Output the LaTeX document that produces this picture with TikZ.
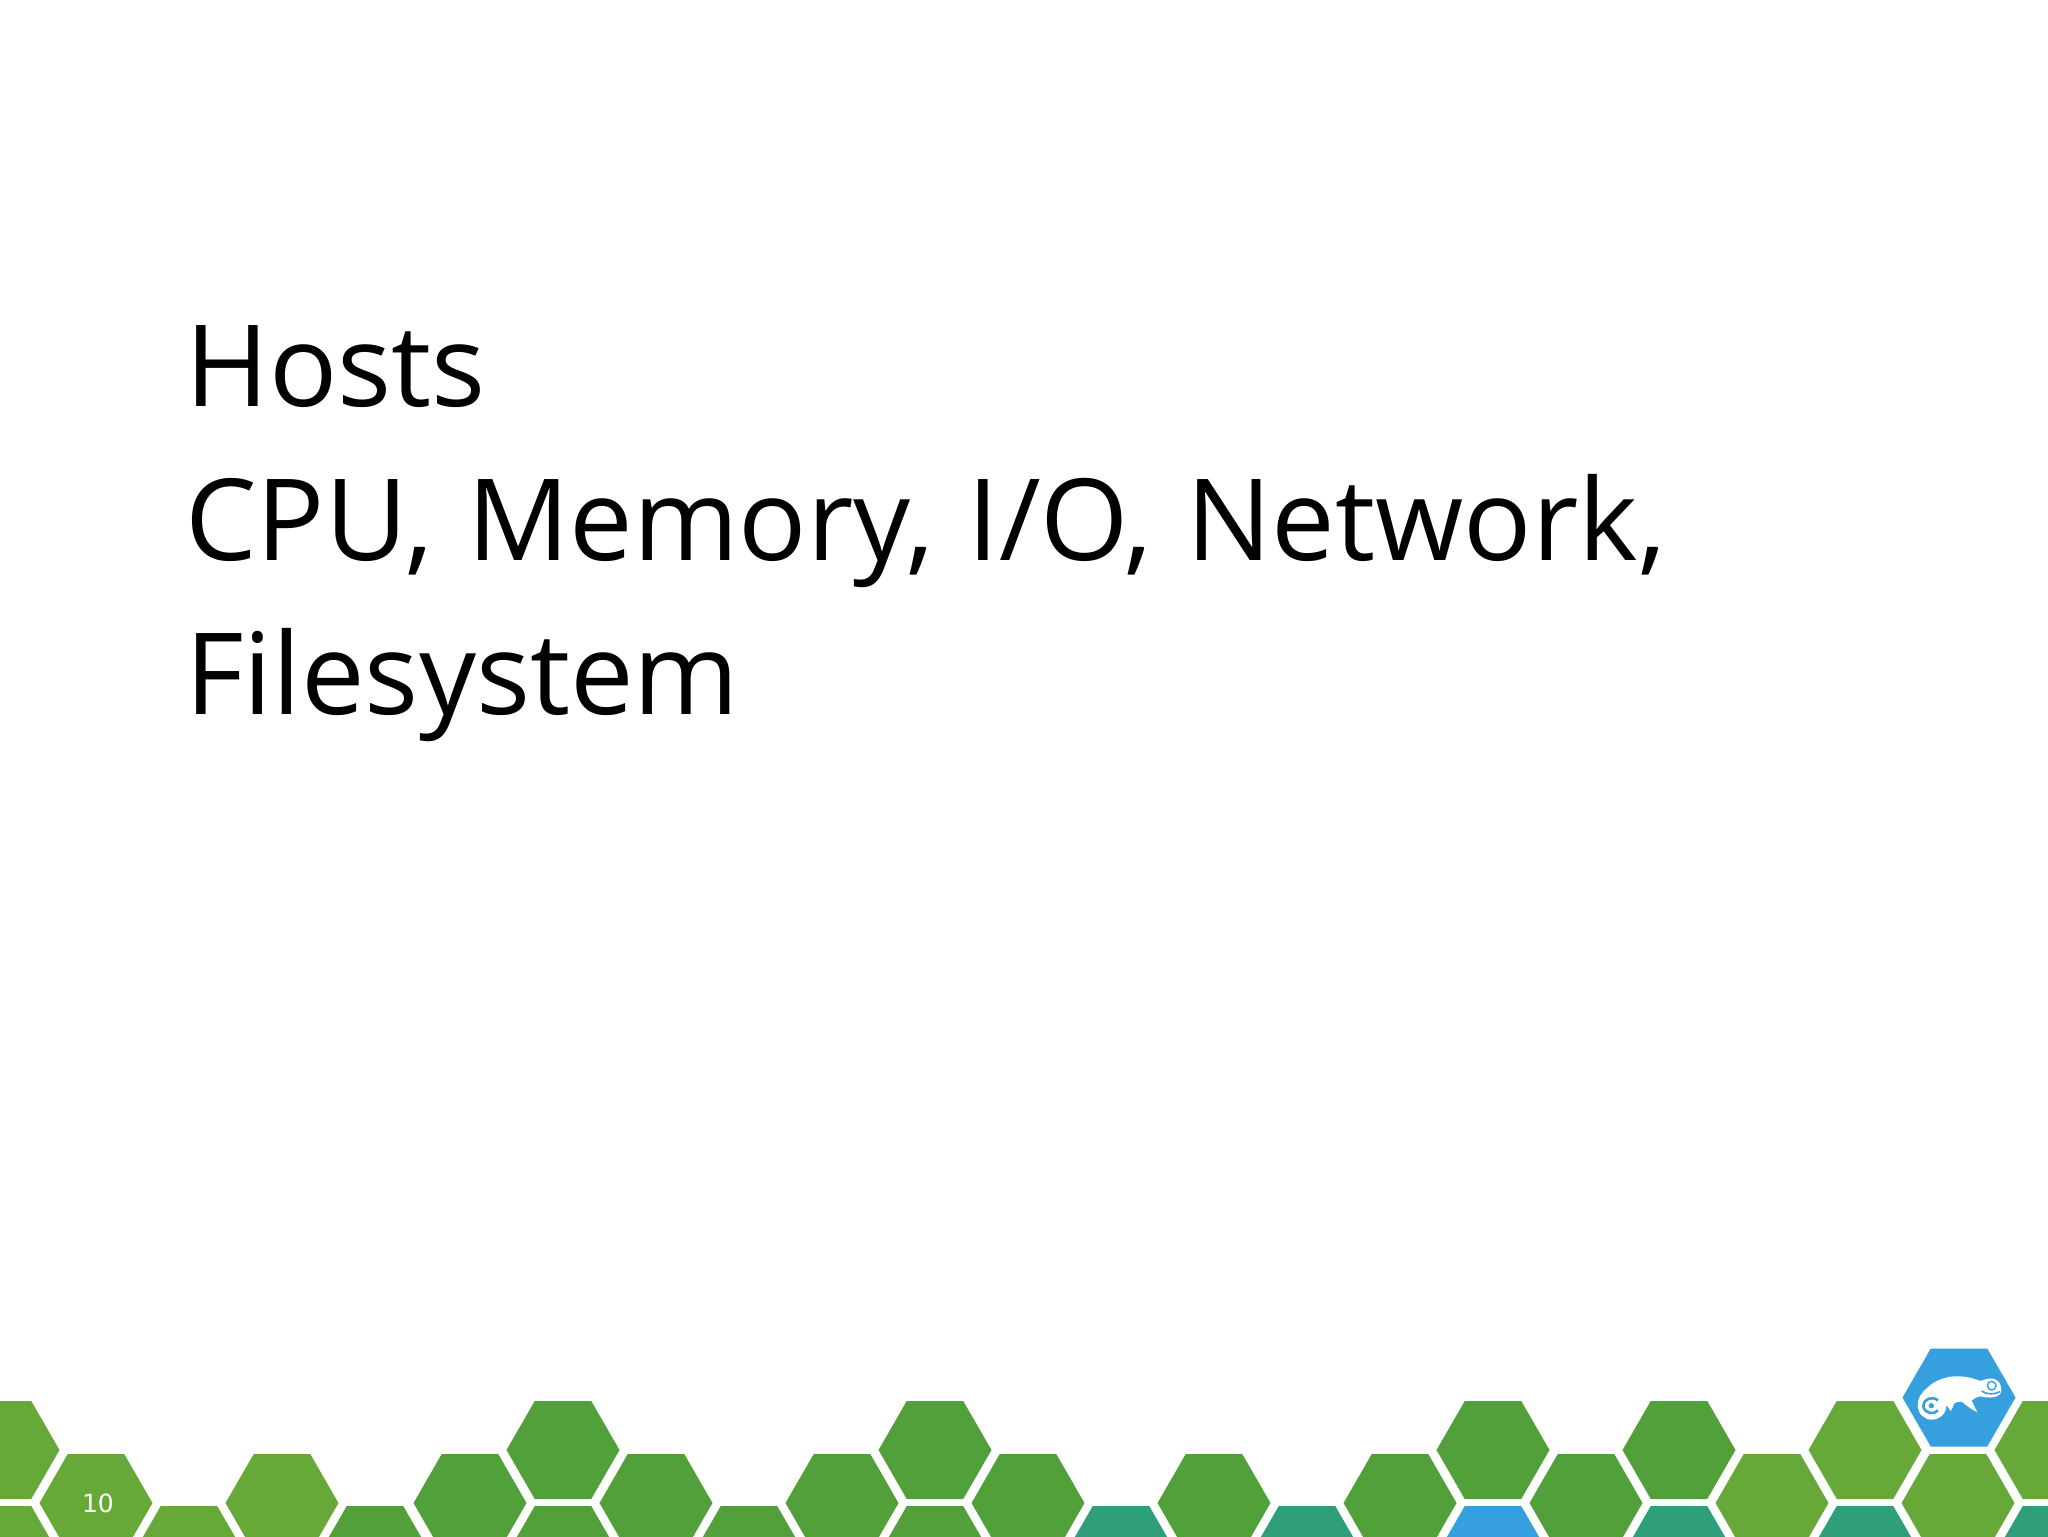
\documentclass[tikz,border=0pt]{standalone}
\usepackage{fontspec}
\setmainfont[WordSpace=1.15]{Open Sans}
\newfontfamily\pagefont{DejaVu Sans}
\definecolor{lightgreen}{HTML}{66A938}
\definecolor{midgreen}{HTML}{52A039}
\definecolor{tealgreen}{HTML}{2F9E7A}
\definecolor{skyblue}{HTML}{36A0DF}
\tikzset{
  hexcell/.pic={\fill (56.5,0) -- (28.25,49) -- (-28.25,49) -- (-56.5,0) -- (-28.25,-49) -- (28.25,-49) -- cycle;},
  bigline/.style={anchor=base west,inner sep=0pt,font=\fontsize{56.7}{70}\selectfont},
}
\begin{document}
\begin{tikzpicture}[x=0.5pt,y=-0.5pt]
  \useasboundingbox (0,0) rectangle (2048,1536);
  \fill[white] (0,0) rectangle (2048,1536);

  \node[bigline] (hosts) at (185,406) {Hosts};
  \node[bigline] (res1) at (185,560) {CPU, Memory, I/O, Network,};
  \node[bigline] (res2) at (185,714) {Filesystem};

  % left end sits a little closer in
  \foreach \k/\c in {-6/lightgreen}
    \pic[fill=\c] (a\k) at ({561+93*\k},1450) {hexcell};
  \foreach \k/\c in {-5/lightgreen,-3/lightgreen}
    \pic[fill=\c] (b\k) at ({561+93*\k},1503) {hexcell};
  \foreach \k/\c in {-6/lightgreen,-4/lightgreen,-2/midgreen}
    \pic[fill=\c] (c\k) at ({561+93*\k},1555) {hexcell};

  % top row
  \foreach \k/\c in {0/midgreen,4/midgreen,10/midgreen,12/midgreen,14/lightgreen,16/lightgreen}
    \pic[fill=\c] (a\k) at ({563+93*\k},1450) {hexcell};
  % middle row
  \foreach \k/\c in {-1/midgreen,1/midgreen,3/midgreen,5/midgreen,7/midgreen,9/midgreen,11/midgreen,13/lightgreen,15/lightgreen}
    \pic[fill=\c] (b\k) at ({563+93*\k},1503) {hexcell};
  % bottom row
  \foreach \k/\c in {0/midgreen,2/midgreen,4/midgreen,6/tealgreen,8/tealgreen,10/skyblue,12/tealgreen,14/tealgreen,16/tealgreen}
    \pic[fill=\c] (c\k) at ({563+93*\k},1555) {hexcell};

  \pic[fill=skyblue] (logo) at (1959,1397.5) {hexcell};
  \node[text=white,inner sep=0pt,font=\pagefont\fontsize{12.5}{15}\selectfont] (pagenum) at (98,1503) {10};

  % chameleon
  \begin{scope}[shift={(1880,1335)},x=0.16667pt,y=-0.16667pt]
    \fill[white] (113,212) .. controls (112,190) and (125,172) .. (140,160)
      .. controls (165,135) and (200,122) .. (240,124)
      .. controls (265,125) and (285,132) .. (302,138)
      .. controls (315,132) and (335,126) .. (350,135)
      .. controls (364,145) and (368,165) .. (360,178)
      .. controls (345,192) and (320,188) .. (300,184)
      .. controls (290,186) and (280,190) .. (275,197)
      .. controls (280,208) and (286,220) .. (292,232)
      .. controls (280,226) and (262,214) .. (245,200)
      .. controls (235,198) and (228,202) .. (222,206)
      .. controls (220,212) and (218,220) .. (212,228)
      .. controls (208,222) and (204,216) .. (199,210)
      .. controls (200,236) and (178,254) .. (155,254)
      .. controls (132,254) and (114,236) .. (113,212) -- cycle;
    \draw[skyblue,line width=1.3pt] (174,226) .. controls (162,242) and (130,234) .. (130,212)
      .. controls (130,192) and (156,182) .. (174,196);
    \fill[skyblue] (154,212) circle (8);
    \draw[skyblue,line width=0.7pt] (335,152) circle (13);
    \draw[skyblue,line width=0.8pt] (305,168) .. controls (320,178) and (340,180) .. (360,170);
  \end{scope}
\end{tikzpicture}
\end{document}
